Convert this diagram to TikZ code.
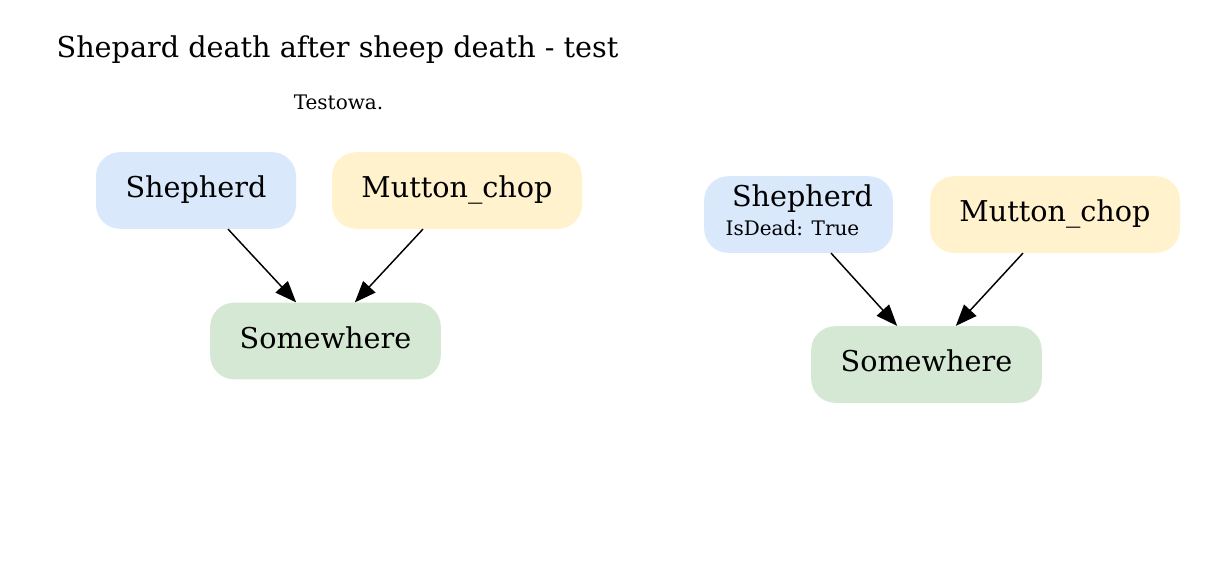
\documentclass[tikz,border=0pt]{standalone}
\usepackage{fontspec}
\setmainfont{DejaVu Serif}
\usetikzlibrary{arrows.meta}

\definecolor{bluefill}{HTML}{DAE8FC}
\definecolor{yellowfill}{HTML}{FFF2CC}
\definecolor{greenfill}{HTML}{D5E8D4}

\begin{document}
\begin{tikzpicture}[x=0.75pt, y=-0.75pt,
    box/.style={rounded corners=18pt, inner sep=0pt, minimum height=57.5pt,
      text height=15.5pt, text depth=4.8pt, font=\fontsize{21.5}{25}\selectfont},
    bigtext/.style={inner sep=0pt, anchor=base, font=\fontsize{21.5}{25}\selectfont},
    smalltext/.style={inner sep=0pt, anchor=base, font=\fontsize{15}{18}\selectfont},
    edge/.style={line width=1.1pt, -{Triangle[length=16pt,width=12.5pt]}}]
    % 枠
    \useasboundingbox (0,0) rectangle (1208,581);
    % タイトル
    \node[bigtext] (title) at (337.5,58) {Shepard death after sheep death - test};
    \node[smalltext] (subtitle) at (338.5,110) {Testowa.};
    % 左のグラフ
    \node[box, fill=bluefill, minimum width=150pt] (shepA) at (196,190.5) {Shepherd};
    \node[box, fill=yellowfill, minimum width=187.5pt] (muttonA) at (457,190.5) {Mutton\_chop};
    \node[box, fill=greenfill, minimum width=173pt] (whereA) at (325.5,341) {Somewhere};
    \draw[edge] ([xshift=24pt]shepA.south) -- ([xshift=-22pt]whereA.north);
    \draw[edge] ([xshift=-25.5pt]muttonA.south) -- ([xshift=22pt]whereA.north);
    % 右のグラフ
    \node[box, fill=bluefill, minimum width=141.5pt] (shepB) at (798.5,214.5) {};
    \node[bigtext] (shepBname) at (802.5,207) {Shepherd};
    \node[smalltext] (shepBdead) at (792.5,236) {IsDead: True};
    \node[box, fill=yellowfill, minimum width=187.5pt] (muttonB) at (1055,214.5) {Mutton\_chop};
    \node[box, fill=greenfill, minimum width=173pt] (whereB) at (926.5,364.5) {Somewhere};
    \draw[edge] ([xshift=24.4pt]shepB.south) -- ([xshift=-22pt]whereB.north);
    \draw[edge] ([xshift=-24pt]muttonB.south) -- ([xshift=22pt]whereB.north);
\end{tikzpicture}
\end{document}
